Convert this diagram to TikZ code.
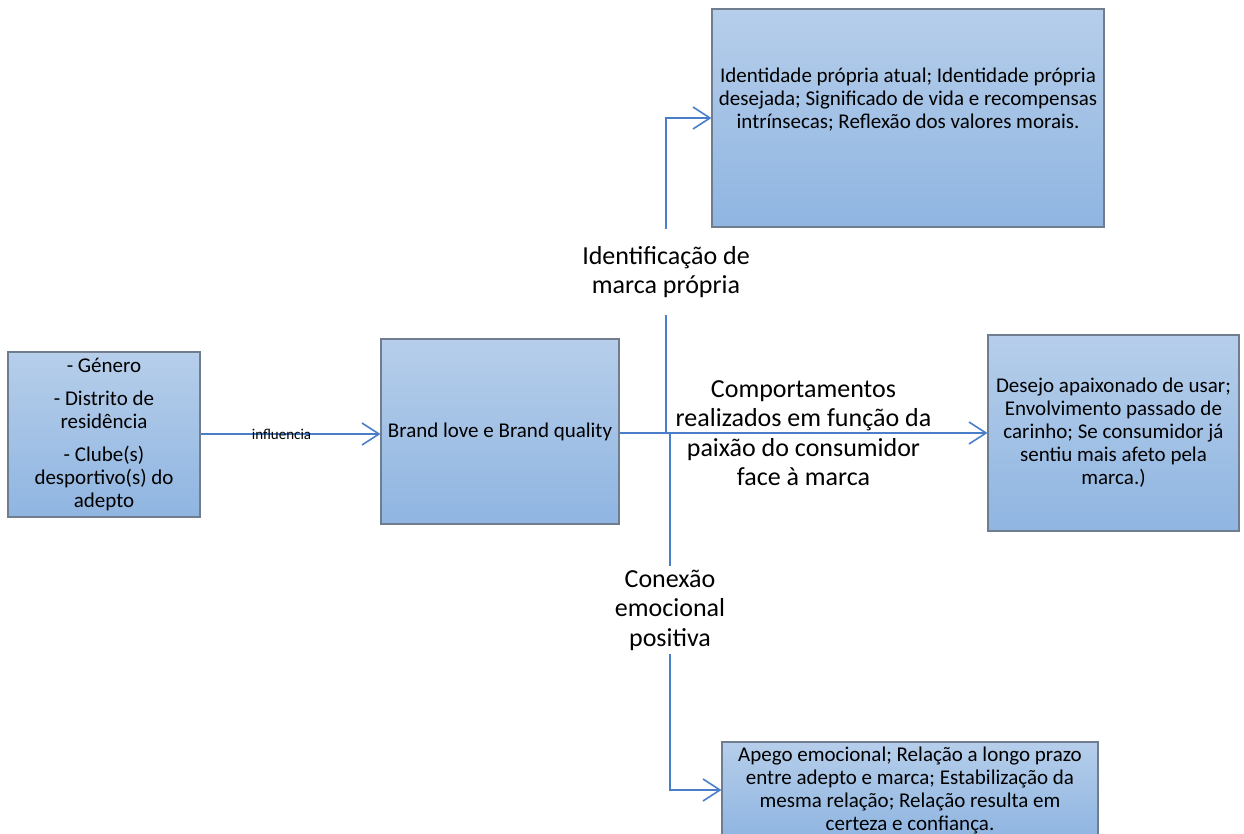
\documentclass[tikz,border=0pt]{standalone}
\usepackage{fontspec}
\setmainfont{Carlito}
\usetikzlibrary{arrows.meta}
\definecolor{boxtop}{RGB}{182,206,234}
\definecolor{boxbot}{RGB}{143,181,225}
\definecolor{boxline}{RGB}{112,125,142}
\definecolor{linkblue}{RGB}{74,126,200}
\begin{document}
\begin{tikzpicture}[x=1pt, y=-1pt,
      box/.style={rectangle, draw=boxline, line width=1.1pt, top color=boxtop, bottom color=boxbot, inner sep=0pt, align=center, font=\fontsize{21}{23}\selectfont},
      boxtxt/.style={align=center, inner sep=0pt, font=\fontsize{21}{23}\selectfont},
      lbl/.style={align=center, inner xsep=0pt, font=\fontsize{26}{29.5}\selectfont},
      conn/.style={draw=linkblue, line width=1.6pt},
      arr/.style={conn, -{Straight Barb[length=17pt, width=22pt, line width=1.6pt]}}]
            \useasboundingbox (0,0) rectangle (1244,834);
            \clip (0,0) rectangle (1244,834);
%           boxes
            \node[box, minimum width=192, minimum height=165] (attr) at (104, 434.5) {- Género\\[10pt]- Distrito de\\residência\\[10pt]- Clube(s)\\desportivo(s) do\\adepto};
            \node[box, minimum width=238, minimum height=185] (brand) at (500, 431.5) {Brand love e Brand quality};
            \node[box, minimum width=392, minimum height=218] (ident) at (908, 118) {};
            \node[boxtxt] (identtxt) at (908, 100) {Identidade própria atual; Identidade própria\\desejada; Significado de vida e recompensas\\intrínsecas; Reflexão dos valores morais.};
            \node[box, minimum width=251, minimum height=196] (desejo) at (1113.5, 433) {Desejo apaixonado de usar;\\Envolvimento passado de\\carinho; Se consumidor já\\sentiu mais afeto pela\\marca.)};
            \node[box, minimum width=376, minimum height=96] (apego) at (910, 790) {Apego emocional; Relação a longo prazo\\entre adepto e marca; Estabilização da\\mesma relação; Relação resulta em\\certeza e confiança.};
%           labels on the branches
            \node[lbl, inner ysep=17pt] (identlbl) at (666, 272) {Identificação de\\marca própria};
            \node[lbl, inner ysep=4pt] (conexlbl) at (670, 610) {Conexão\\emocional\\positiva};
            \coordinate (up) at (666, 433);
            \coordinate (down) at (670, 433);
%           connectors
            \draw[arr] (attr.east |- 0,434) -- node[pos=0.45, inner sep=0pt, font=\fontsize{15}{17}\selectfont] {influencia} (brand.west |- 0,434);
            \draw[arr] (brand.east |- 0,433) -- node[lbl] {Comportamentos\\realizados em função da\\paixão do consumidor\\face à marca} (desejo.west |- 0,433);
            \draw[conn] (up) -- (identlbl.south);
            \draw[arr] (identlbl.north) |- (ident.west);
            \draw[conn] (down) -- (conexlbl.north);
            \draw[arr] (conexlbl.south) |- (apego.west);
\end{tikzpicture}
\end{document}
